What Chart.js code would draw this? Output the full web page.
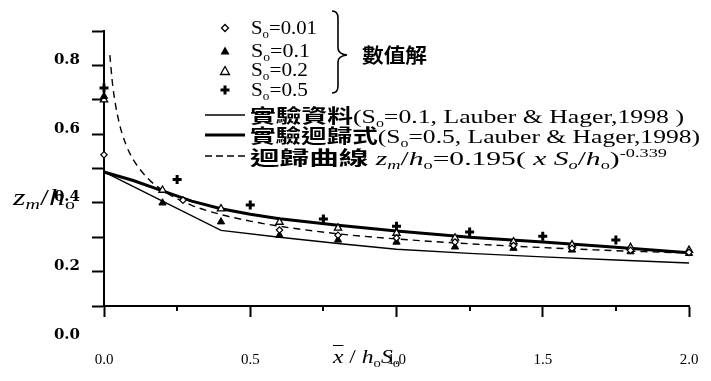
<!DOCTYPE html>
<html><head><meta charset="utf-8">
<script src="https://cdn.jsdelivr.net/npm/chart.js@4.4.1/dist/chart.umd.min.js"></script>
<style>
html,body{margin:0;padding:0;background:#fff;}
#wrap{position:relative;width:711px;height:381px;overflow:hidden;background:#fff;}
canvas{position:absolute;left:0;top:0;}
svg{position:absolute;left:0;top:0;}
.t{position:absolute;white-space:nowrap;width:max-content;transform-origin:0 50%;color:#000;font-family:'Liberation Serif','Noto Sans CJK TC',serif;}
.leg{font-size:19px;line-height:20px;}
.cjk{font-family:'Noto Sans CJK TC',sans-serif;font-weight:700;}
sub{font-size:62%;vertical-align:-0.3em;line-height:0;}
sup{font-size:62%;vertical-align:0.65em;line-height:0;}
</style></head>
<body><div id="wrap">
<canvas id="c" width="711" height="381"></canvas>
<svg width="711" height="381" viewBox="0 0 711 381">
  <polygon points="225,24.5 228.5,28 225,31.5 221.5,28" fill="#fff" stroke="#000" stroke-width="1.3"/>
  <polygon points="225,46.5 229.5,54.5 220.5,54.5" fill="#000"/>
  <polygon points="225,66.5 229.5,74.5 220.5,74.5" fill="#fff" stroke="#000" stroke-width="1.3"/>
  <line x1="220.5" y1="90" x2="229.5" y2="90" stroke="#000" stroke-width="3"/>
  <line x1="225" y1="85.5" x2="225" y2="94.5" stroke="#000" stroke-width="3"/>
  <line x1="205" y1="115" x2="245" y2="115" stroke="#000" stroke-width="1.3"/>
  <line x1="205" y1="135" x2="245" y2="135" stroke="#000" stroke-width="3"/>
  <line x1="205" y1="156" x2="245" y2="156" stroke="#000" stroke-width="1.3" stroke-dasharray="7 4"/>
  <path d="M332,11 Q338,11 338,18 L338,48 Q338,54 347,55 Q338,56 338,62 L338,86 Q338,93 332,93" fill="none" stroke="#000" stroke-width="1.6"/>
</svg>
<div class="t leg" data-w="66" style="left:251px;top:18px">S<sub>o</sub>=0.01</div>
<div class="t leg" data-w="59" style="left:251px;top:41px">S<sub>o</sub>=0.1</div>
<div class="t leg" data-w="57" style="left:251px;top:60px">S<sub>o</sub>=0.2</div>
<div class="t leg" data-w="57" style="left:251px;top:80px">S<sub>o</sub>=0.5</div>
<div class="t cjk" data-w="65" style="left:362px;top:44px;font-size:20px;line-height:22px">數值解</div>
<div class="t leg" data-w="434" style="left:250px;top:105px"><span class="cjk">實驗資料</span>(S<sub>o</sub>=0.1, Lauber &amp; Hager,1998 )</div>
<div class="t leg" data-w="450" style="left:250px;top:125px"><span class="cjk">實驗迴歸式</span>(S<sub>o</sub>=0.5, Lauber &amp; Hager,1998)</div>
<div class="t leg" data-w="417" style="left:250px;top:147px"><span class="cjk">迴歸曲線</span> <i>z<sub>m</sub></i>/<i>h</i><sub>o</sub>=0.195( <i>x S<sub>o</sub></i>/<i>h</i><sub>o</sub>)<sup>-0.339</sup></div>
<div class="t" data-w="62" style="left:13px;top:184px;font-size:24px;line-height:26px"><i>z<sub>m</sub></i>/<i>h</i><sub>o</sub></div>
<div class="t" data-w="67" style="left:333px;top:346px;font-size:19px;line-height:22px"><i><span style="text-decoration:overline">x</span></i> / <i>h</i><sub>o</sub><i>S</i><sub>o</sub></div>
</div>
<script>
// ---- data ----
const yTickLabels = ['0.0', '0.2', '0.4', '0.6', '0.8'];
const xTickLabels = ['0.0', '0.5', '1.0', '1.5', '2.0'];

// numerical solutions (數值解)
const s001X = [0, 0.27, 0.6, 0.8, 1.0, 1.2, 1.4, 1.6, 1.8, 2.0];
const s001Y = [0.44, 0.308, 0.221, 0.206, 0.198, 0.186, 0.176, 0.168, 0.162, 0.156];
const s01X = [0, 0.2, 0.4, 0.6, 0.8, 1.0, 1.2, 1.4, 1.6, 1.8, 2.0];
const s01Y = [0.61, 0.30, 0.245, 0.206, 0.192, 0.186, 0.172, 0.168, 0.163, 0.158, 0.153];
const s02X = [0, 0.2, 0.4, 0.6, 0.8, 1.0, 1.2, 1.4, 1.6, 1.8, 2.0];
const s02Y = [0.60, 0.337, 0.283, 0.244, 0.227, 0.212, 0.198, 0.187, 0.178, 0.170, 0.162];
const s05X = [0, 0.25, 0.5, 0.75, 1.0, 1.25, 1.5, 1.75];
const s05Y = [0.634, 0.368, 0.294, 0.253, 0.232, 0.215, 0.203, 0.192];

// experimental data (實驗資料, So=0.1)
const expX = [0, 0.2, 0.4, 0.6, 0.8, 1.0, 1.25, 1.5, 1.75, 2.0];
const expY = [0.39, 0.305, 0.22, 0.20, 0.182, 0.165, 0.153, 0.143, 0.134, 0.125];
// experimental regression (實驗迴歸式, So=0.5)
const regX = [0, 0.1, 0.2, 0.3, 0.4, 0.5, 0.6, 0.8, 1.0, 1.25, 1.5, 1.75, 2.0];
const regY = [0.39, 0.365, 0.335, 0.305, 0.283, 0.267, 0.254, 0.235, 0.218, 0.200, 0.186, 0.171, 0.155];
// regression curve (迴歸曲線)
const curveX = [0.02, 0.03, 0.05, 0.075, 0.1, 0.15, 0.2, 0.3, 0.4, 0.5, 0.6, 0.8, 1.0, 1.25, 1.5, 1.75, 2.0];
const curveY = [0.73, 0.64, 0.54, 0.47, 0.426, 0.371, 0.337, 0.293, 0.266, 0.247, 0.232, 0.210, 0.195, 0.181, 0.170, 0.161, 0.154];

const pts = (xs, ys) => xs.map((x, i) => ({x: x, y: ys[i]}));
const isMajor = v => Math.abs(v * 2 - Math.round(v * 2)) < 1e-6;

// short minor tick marks on the x axis, placed through the x scale
const minorTicks = {
  id: 'minorTicks',
  afterDraw(chart) {
    const xs = chart.scales.x, ctx = chart.ctx, b = chart.chartArea.bottom;
    ctx.save();
    ctx.strokeStyle = '#000';
    ctx.lineWidth = 2;
    xs.ticks.forEach(t => {
      if (isMajor(t.value)) return;
      const px = Math.round(xs.getPixelForValue(t.value));
      ctx.beginPath();
      ctx.moveTo(px, b);
      ctx.lineTo(px, b + 5);
      ctx.stroke();
    });
    ctx.restore();
  }
};

new Chart(document.getElementById('c'), {
  type: 'scatter',
  data: {
    datasets: [
      {label: 'So=0.01', data: pts(s001X, s001Y), pointStyle: 'rectRot', pointRadius: 3.2, backgroundColor: '#fff', borderColor: '#000', borderWidth: 1.2, clip: false},
      {label: 'So=0.1', data: pts(s01X, s01Y), pointStyle: 'triangle', pointRadius: 4.2, backgroundColor: '#000', borderColor: '#000', borderWidth: 1, clip: false},
      {label: 'So=0.2', data: pts(s02X, s02Y), pointStyle: 'triangle', pointRadius: 4.2, backgroundColor: '#fff', borderColor: '#000', borderWidth: 1.3, clip: false},
      {label: 'So=0.5', data: pts(s05X, s05Y), pointStyle: 'cross', pointRadius: 4.5, borderColor: '#000', borderWidth: 3, clip: false},
      {label: '實驗資料', data: pts(expX, expY), showLine: true, pointRadius: 0, borderColor: '#000', borderWidth: 1.4, tension: 0, clip: false},
      {label: '實驗迴歸式', data: pts(regX, regY), showLine: true, pointRadius: 0, borderColor: '#000', borderWidth: 3, tension: 0, clip: false},
      {label: '迴歸曲線', data: pts(curveX, curveY), showLine: true, pointRadius: 0, borderColor: '#000', borderWidth: 1.4, borderDash: [7, 5], cubicInterpolationMode: 'monotone', clip: false}
    ]
  },
  options: {
    responsive: false,
    animation: false,
    layout: {padding: {top: 31, right: 22, bottom: 0, left: 0}},
    plugins: {legend: {display: false}, tooltip: {enabled: false}},
    scales: {
      x: {
        type: 'linear', position: 'bottom', min: 0, max: 2,
        afterFit: s => { s.height = 75; s.paddingLeft = 0; s.paddingRight = 0; },
        ticks: {
          stepSize: 0.25, autoSkip: false, maxRotation: 0, padding: 34, color: '#000',
          font: {family: 'Liberation Serif', size: 15},
          callback: (v, i) => isMajor(v) ? xTickLabels[Math.round(v * 2)] : ''
        },
        grid: {drawOnChartArea: false, tickLength: 11, tickWidth: 2,
               tickColor: c => (c.tick && isMajor(c.tick.value)) ? '#000' : 'rgba(0,0,0,0)'},
        border: {color: '#000', width: 2}
      },
      y: {
        min: 0, max: 0.8,
        afterFit: s => { s.width = 104; },
        ticks: {
          stepSize: 0.1, labelOffset: 29, padding: 12, color: '#000',
          font: {family: 'DejaVu Serif', size: 15, weight: 'bold'},
          callback: (v, i) => (i % 2 === 0) ? yTickLabels[i / 2] : ''
        },
        grid: {drawOnChartArea: false, tickLength: 12, tickWidth: 2, tickColor: '#000'},
        border: {color: '#000', width: 2}
      }
    }
  },
  plugins: [minorTicks]
});

function fit() {
  document.querySelectorAll('[data-w]').forEach(el => {
    el.style.transform = 'none';
    const w = el.getBoundingClientRect().width;
    if (w > 0) el.style.transform = 'scaleX(' + (parseFloat(el.dataset.w) / w) + ')';
  });
}
fit();
if (document.fonts && document.fonts.ready) document.fonts.ready.then(fit);
window.addEventListener('load', fit);
</script>
</body></html>
